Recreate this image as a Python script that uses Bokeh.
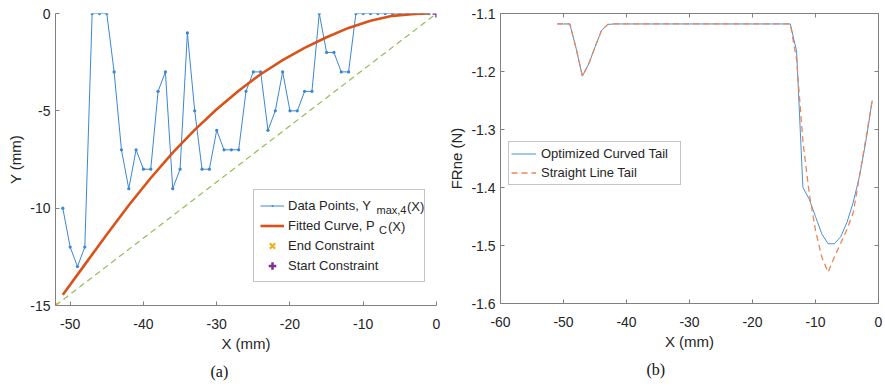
from bokeh.plotting import figure
from bokeh.layouts import row
from bokeh.models import (Range1d, Legend, LegendItem, Label, Title, FixedTicker,
                          LinearAxis, CustomJSTickFormatter)
from bokeh.embed import file_html
from bokeh.resources import INLINE

FONT = "Liberation Sans"
TXT = "#262626"
AX = "#808080"

# ---------------- panel (a) data ----------------
xa_points = [-51, -50, -49, -48, -47, -46, -45, -44, -43, -42, -41, -40, -39, -38, -37, -36,
             -35, -34, -33, -32, -31, -30, -29, -28, -27, -26, -25, -24, -23, -22, -21, -20,
             -19, -18, -17, -16, -15, -14, -13, -12, -11, -10, -9, -8, -7, -6, -5, -4, -3, -2, -1]
ya_points = [-10, -12, -13, -12, 0, 0, 0, -3, -7, -9, -7, -8, -8, -4, -3, -9,
             -8, -1, -5, -8, -8, -6, -7, -7, -7, -4, -3, -3, -6, -5, -3, -5,
             -5, -4, -4, 0, -2, -2, -3, -3, 0, 0, 0, 0, 0, 0, 0, 0, 0, 0, 0]
xa_fit = [-51, -48, -45, -42, -39, -36, -33, -30, -27, -24, -21, -18, -15, -12, -9, -6, -3, -1]
ya_fit = [-14.45, -12.9, -11.35, -9.85, -8.45, -7.15, -5.98, -4.92, -3.97, -3.12, -2.4,
          -1.77, -1.22, -0.74, -0.37, -0.12, -0.02, 0.0]
xa_straight = [-52, 0]
ya_straight = [-15, 0]
end_x, end_y = [-52], [-15]
start_x, start_y = [0], [0]
xa_ticks = [-50, -40, -30, -20, -10, 0]
ya_ticks = [-15, -10, -5, 0]

# ---------------- panel (b) data ----------------
xb = [-51, -50, -49, -48, -47, -46, -45, -44, -43, -42, -41, -40, -39, -38, -37, -36,
      -35, -34, -33, -32, -31, -30, -29, -28, -27, -26, -25, -24, -23, -22, -21, -20,
      -19, -18, -17, -16, -15, -14, -13, -12, -11, -10, -9, -8, -7, -6, -5, -4, -3, -2, -1]
yb_curved = [-1.118, -1.118, -1.118, -1.160, -1.208, -1.187, -1.158, -1.130, -1.119,
             -1.118, -1.118, -1.118, -1.118, -1.118, -1.118, -1.118, -1.118, -1.118, -1.118,
             -1.118, -1.118, -1.118, -1.118, -1.118, -1.118, -1.118, -1.118, -1.118, -1.118,
             -1.118, -1.118, -1.118, -1.118, -1.118, -1.118, -1.118, -1.118, -1.118,
             -1.165, -1.400, -1.420, -1.450, -1.480, -1.497, -1.497, -1.485, -1.460, -1.425,
             -1.380, -1.320, -1.250]
yb_straight = [-1.118, -1.118, -1.118, -1.160, -1.208, -1.187, -1.158, -1.130, -1.119,
               -1.118, -1.118, -1.118, -1.118, -1.118, -1.118, -1.118, -1.118, -1.118, -1.118,
               -1.118, -1.118, -1.118, -1.118, -1.118, -1.118, -1.118, -1.118, -1.118, -1.118,
               -1.118, -1.118, -1.118, -1.118, -1.118, -1.118, -1.118, -1.118, -1.118,
               -1.180, -1.320, -1.410, -1.474, -1.520, -1.546, -1.520, -1.496, -1.472, -1.443,
               -1.379, -1.315, -1.250]
xb_ticks = [-60, -50, -40, -30, -20, -10, 0]
yb_ticks = [-1.6, -1.5, -1.4, -1.3, -1.2, -1.1]


def style_axis(ax, ticks, standoff, label_standoff, fmt):
    ax.ticker = FixedTicker(ticks=ticks)
    ax.formatter = CustomJSTickFormatter(code=fmt)
    ax.minor_tick_line_color = None
    ax.major_tick_in = 4
    ax.major_tick_out = 0
    ax.axis_line_color = AX
    ax.major_tick_line_color = AX
    ax.major_label_text_font = FONT
    ax.major_label_text_font_size = "14px"
    ax.major_label_text_color = TXT
    ax.major_label_standoff = standoff
    ax.axis_label_text_font = FONT
    ax.axis_label_text_font_size = "15px"
    ax.axis_label_text_font_style = "normal"
    ax.axis_label_text_color = TXT
    ax.axis_label_standoff = label_standoff


INT_FMT = "return tick.toString();"
DEC_FMT = "return tick.toFixed(1);"


def caption(p, text, offset):
    t = Title(text=text, align="left", offset=offset, standoff=12, text_font="Liberation Serif",
              text_font_size="16px", text_font_style="normal", text_color="#111111")
    p.add_layout(t, "below")


# ================= panel (a) =================
p1 = figure(frame_width=381, frame_height=292, x_range=Range1d(-52, 0), y_range=Range1d(-15, 0),
            output_backend="svg", toolbar_location=None,
            min_border_left=55, min_border_right=9, min_border_top=13, min_border_bottom=70)
p1.outline_line_color = None
p1.grid.grid_line_color = None

r_straight = p1.line(xa_straight, ya_straight, line_color="#77AC30", line_width=1.2,
                     line_dash="6 4", line_alpha=0.8)
r_pts_line = p1.line(xa_points, ya_points, line_color="#3c87d2", line_width=1)
r_pts_dot = p1.scatter(xa_points, ya_points, marker="dot", size=13, line_color="#3c87d2",
                       fill_color="#3c87d2")
r_fit = p1.line(xa_fit, ya_fit, line_color="#D95319", line_width=2.6)
r_end = p1.scatter(end_x, end_y, marker="x", size=7, line_color="#EDB120", line_width=2.2)
r_start = p1.scatter(start_x, start_y, marker="cross", size=8, line_color="#7E2F8E", line_width=2.5)

style_axis(p1.xaxis[0], xa_ticks, 13, 3, INT_FMT)
style_axis(p1.yaxis[0], ya_ticks, 5, 3, INT_FMT)
p1.xaxis.axis_label = "X (mm)"
p1.yaxis.axis_label = "Y (mm)"

leg1 = Legend(items=[
    LegendItem(label="Data Points, Y", renderers=[r_pts_line, r_pts_dot]),
    LegendItem(label="Fitted Curve, P", renderers=[r_fit]),
    LegendItem(label="End Constraint", renderers=[r_end]),
    LegendItem(label="Start Constraint", renderers=[r_start]),
], location=(198, 23), padding=6, spacing=1, margin=0, glyph_width=24, glyph_height=19,
    label_height=19, label_standoff=4, label_width=130,
    label_text_font=FONT, label_text_font_size="13px", label_text_color=TXT,
    border_line_color="#8c8c8c", border_line_width=1, background_fill_color="white",
    background_fill_alpha=0)
p1.add_layout(leg1)


def ax_x(px):
    return -52 + (px - 55) / 381 * 52


def ax_y(py):
    return -(py - 13) / 292 * 15


row1, row2 = 205.5, 225.5
for txt, px, py, fs in [("max,4", 376, row1 + 4, "11px"), ("(X)", 406.5, row1, "13px"),
                        ("C", 378.5, row2 + 4, "11px"), ("(X)", 387.5, row2, "13px")]:
    p1.add_layout(Label(x=ax_x(px), y=ax_y(py), text=txt, text_font=FONT, text_font_size=fs,
                        text_color=TXT, text_baseline="middle", text_align="left"))

caption(p1, "(a)", 155)

# ================= panel (b) =================
p2 = figure(frame_width=378, frame_height=290, x_range=Range1d(-60, 0), y_range=Range1d(-1.6, -1.1),
            output_backend="svg", toolbar_location=None,
            min_border_left=55, min_border_right=6, min_border_top=13, min_border_bottom=70)
p2.outline_line_color = AX
p2.grid.grid_line_color = None

r_curved = p2.line(xb, yb_curved, line_color="#4a8fd8", line_width=1)
r_strt = p2.line(xb, yb_straight, line_color="#e8875a", line_width=1.3, line_dash="6 4")

style_axis(p2.xaxis[0], xb_ticks, 13, 3, INT_FMT)
style_axis(p2.yaxis[0], yb_ticks, 5, 3, DEC_FMT)
p2.xaxis.axis_label = "X (mm)"
p2.yaxis.axis_label = "FRne (N)"

blank = CustomJSTickFormatter(code="return '';")
top_ax = LinearAxis(ticker=FixedTicker(ticks=xb_ticks), formatter=blank, major_tick_in=4,
                    major_tick_out=0, minor_tick_line_color=None, axis_line_color=None,
                    major_tick_line_color=AX, major_label_standoff=0,
                    major_label_text_font_size="1px")
right_ax = LinearAxis(ticker=FixedTicker(ticks=yb_ticks), formatter=blank, major_tick_in=4,
                      major_tick_out=0, minor_tick_line_color=None, axis_line_color=None,
                      major_tick_line_color=AX, major_label_standoff=0,
                      major_label_text_font_size="1px")
p2.add_layout(top_ax, "above")
p2.add_layout(right_ax, "right")

leg2 = Legend(items=[
    LegendItem(label="Optimized Curved Tail", renderers=[r_curved]),
    LegendItem(label="Straight Line Tail", renderers=[r_strt]),
], location=(8, 118), padding=2, spacing=0, margin=0, glyph_width=25, glyph_height=19,
    label_height=19, label_standoff=5, label_width=137,
    label_text_font=FONT, label_text_font_size="13px", label_text_color=TXT,
    border_line_color="#8c8c8c", border_line_width=1, background_fill_color="white",
    background_fill_alpha=1)
p2.add_layout(leg2)

caption(p2, "(b)", 146)

layout = row(p1, p2)
open("out.html", "w").write(file_html(layout, INLINE))
